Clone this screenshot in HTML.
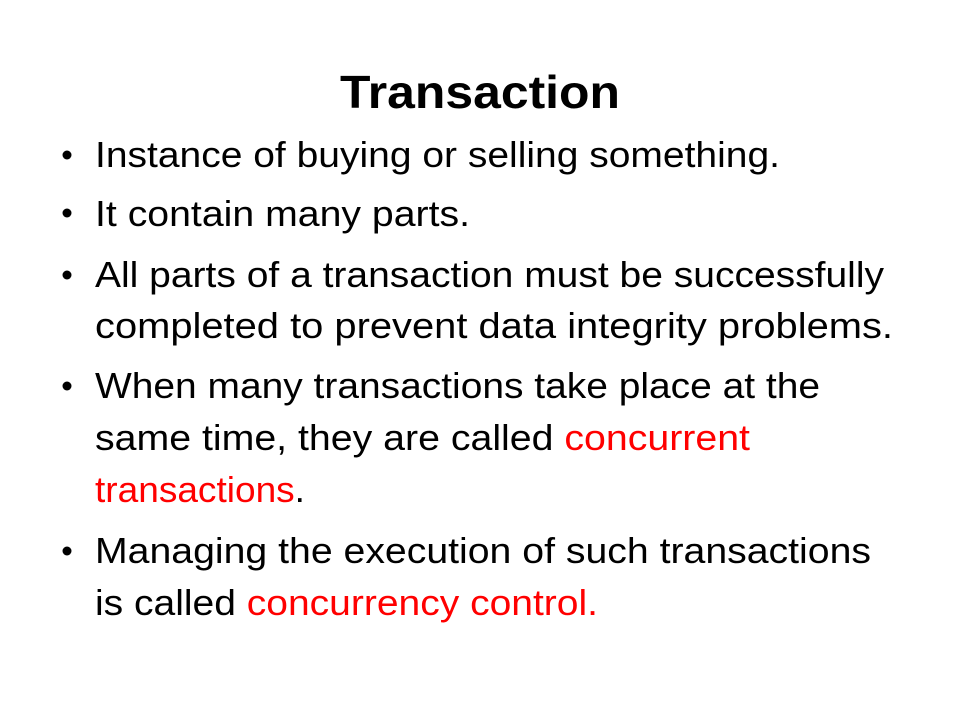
<!DOCTYPE html>
<html><head><meta charset="utf-8"><style>
html,body{margin:0;padding:0;background:#fff;}
svg{display:block;}
text{font-family:"Liberation Sans",sans-serif;fill:#000;}
.r{fill:#ff0000;}
</style></head><body>
<svg width="960" height="720" viewBox="0 0 960 720">
<rect width="960" height="720" fill="#fff"/>
<text x="340" y="108" font-size="46" font-weight="bold" textLength="280" lengthAdjust="spacingAndGlyphs">Transaction</text>
<g>
<circle cx="67" cy="155" r="4.5" fill="#000"/>
<circle cx="67" cy="213" r="4.5" fill="#000"/>
<circle cx="67" cy="275" r="4.5" fill="#000"/>
<circle cx="67" cy="386" r="4.5" fill="#000"/>
<circle cx="67" cy="551" r="4.5" fill="#000"/>
<text x="95" y="167" font-size="36" textLength="685" lengthAdjust="spacingAndGlyphs">Instance of buying or selling something.</text>
<text x="95" y="226" font-size="36" textLength="375" lengthAdjust="spacingAndGlyphs">It contain many parts.</text>
<text x="95" y="287" font-size="36" textLength="789" lengthAdjust="spacingAndGlyphs">All parts of a transaction must be successfully</text>
<text x="95" y="338" font-size="36" textLength="798" lengthAdjust="spacingAndGlyphs">completed to prevent data integrity problems.</text>
<text x="95" y="398" font-size="36" textLength="725" lengthAdjust="spacingAndGlyphs">When many transactions take place at the</text>
<text x="95" y="450" font-size="36" textLength="655" lengthAdjust="spacingAndGlyphs">same time, they are called <tspan class="r">concurrent</tspan></text>
<text x="95" y="502" font-size="36" textLength="210" lengthAdjust="spacingAndGlyphs"><tspan class="r">transactions</tspan>.</text>
<text x="95" y="563" font-size="36" textLength="776" lengthAdjust="spacingAndGlyphs">Managing the execution of such transactions</text>
<text x="95" y="615" font-size="36" textLength="503" lengthAdjust="spacingAndGlyphs">is called <tspan class="r">concurrency control.</tspan></text>
</g>
</svg>
</body></html>
